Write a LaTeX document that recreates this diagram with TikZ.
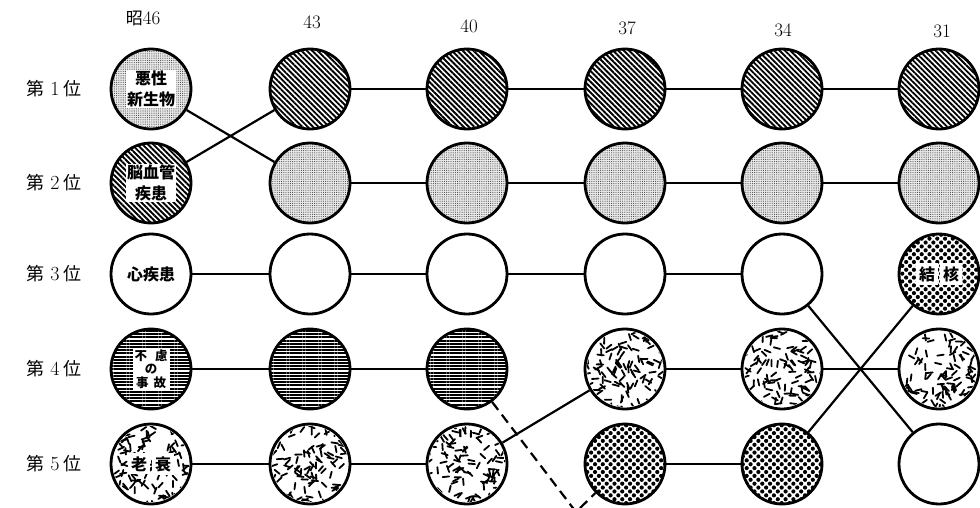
\documentclass[tikz,border=0pt]{standalone}
\usepackage{fontspec}
\newfontfamily\cjk{Noto Sans CJK JP}
\usetikzlibrary{patterns.meta}

% random squiggle texture inside a circle node
\newcommand\squig[1]{%
  \begin{scope}
    \clip (#1.center) circle (38);
    \foreach \k in {1,...,115}{
      \pgfmathsetmacro\px{39*rand}
      \pgfmathsetmacro\py{39*rand}
      \pgfmathsetmacro\pa{180*rnd}
      \draw[line width=1.8pt,line cap=round] ([shift={(\px,\py)}]#1.center) -- ++(\pa:6.5);
    }
  \end{scope}}

\begin{document}
\begin{tikzpicture}[x=1pt,y=-1pt,
    link/.style={line width=2.2pt},
    rank/.style={circle,draw,line width=2.8pt,minimum size=80pt,inner sep=0pt},
    neo/.style={rank,preaction={fill=gray!18},pattern={Dots[distance=2.2pt,radius=.55pt]},pattern color=gray!55!black},
    cvd/.style={rank,pattern={Lines[angle=-45,distance=3.8pt,line width=1.9pt]}},
    heart/.style={rank,fill=white},
    accid/.style={rank,pattern={Lines[angle=0,distance=3.2pt,line width=2.1pt]}},
    senil/.style={rank,fill=white},
    tb/.style={rank,pattern={Dots[angle=45,distance=5.5pt,radius=2.1pt]}},
    lbl/.style={font=\cjk\bfseries\fontsize{16}{21}\selectfont,align=center,fill=white,inner sep=1pt},
    yr/.style={font=\fontsize{19}{20}\selectfont},
    ranklbl/.style={font=\fontsize{20}{22}\selectfont}]
  \useasboundingbox (0,0) rectangle (980,507);

  % year headers
  \node[yr] (h46) at (143,18) {{\cjk\fontsize{17}{20}\selectfont 昭}46};
  \node[yr] (h43) at (312,22) {43};
  \node[yr] (h40) at (469,26) {40};
  \node[yr] (h37) at (627,28) {37};
  \node[yr] (h34) at (783,30) {34};
  \node[yr] (h31) at (942,31) {31};

  % rank labels
  \node[ranklbl] (p1) at (54,89)  {{\cjk\fontsize{18}{20}\selectfont 第}\hspace{6pt}1\hspace{4pt}{\cjk\fontsize{18}{20}\selectfont 位}};
  \node[ranklbl] (p2) at (54,183) {{\cjk\fontsize{18}{20}\selectfont 第}\hspace{6pt}2\hspace{4pt}{\cjk\fontsize{18}{20}\selectfont 位}};
  \node[ranklbl] (p3) at (54,274) {{\cjk\fontsize{18}{20}\selectfont 第}\hspace{6pt}3\hspace{4pt}{\cjk\fontsize{18}{20}\selectfont 位}};
  \node[ranklbl] (p4) at (54,369) {{\cjk\fontsize{18}{20}\selectfont 第}\hspace{6pt}4\hspace{4pt}{\cjk\fontsize{18}{20}\selectfont 位}};
  \node[ranklbl] (p5) at (54,464) {{\cjk\fontsize{18}{20}\selectfont 第}\hspace{6pt}5\hspace{4pt}{\cjk\fontsize{18}{20}\selectfont 位}};

  % 昭46
  \node[neo]   (y46r1) at (151,89)  {};
  \node[cvd]   (y46r2) at (151,183) {};
  \node[heart] (y46r3) at (151,274) {};
  \node[accid] (y46r4) at (151,369) {};
  \node[senil] (y46r5) at (151,464) {};
  % 43
  \node[cvd]   (y43r1) at (310,89)  {};
  \node[neo]   (y43r2) at (310,183) {};
  \node[heart] (y43r3) at (310,274) {};
  \node[accid] (y43r4) at (310,369) {};
  \node[senil] (y43r5) at (310,464) {};
  % 40
  \node[cvd]   (y40r1) at (467,89)  {};
  \node[neo]   (y40r2) at (467,183) {};
  \node[heart] (y40r3) at (467,274) {};
  \node[accid] (y40r4) at (467,369) {};
  \node[senil] (y40r5) at (467,464) {};
  % 37
  \node[cvd]   (y37r1) at (625,89)  {};
  \node[neo]   (y37r2) at (625,183) {};
  \node[heart] (y37r3) at (625,274) {};
  \node[senil] (y37r4) at (625,369) {};
  \node[tb]    (y37r5) at (625,464) {};
  % 34
  \node[cvd]   (y34r1) at (782,89)  {};
  \node[neo]   (y34r2) at (782,183) {};
  \node[heart] (y34r3) at (782,274) {};
  \node[senil] (y34r4) at (782,369) {};
  \node[tb]    (y34r5) at (782,464) {};
  % 31
  \node[cvd]   (y31r1) at (939,89)  {};
  \node[neo]   (y31r2) at (939,183) {};
  \node[tb]    (y31r3) at (939,274) {};
  \node[senil] (y31r4) at (939,369) {};
  \node[heart] (y31r5) at (939,464) {};

  \pgfmathsetseed{4613}
  \squig{y46r5}\squig{y43r5}\squig{y40r5}
  \squig{y37r4}\squig{y34r4}\squig{y31r4}

  % names of the causes
  \node[lbl] (t1) at (y46r1) {悪性\\新生物};
  \node[lbl] (t2) at (y46r2) {脳血管\\疾患};
  \node[lbl,fill=none] (t3) at (y46r3) {心疾患};
  \node[lbl,font=\cjk\bfseries\fontsize{12.5}{13.5}\selectfont,inner sep=2pt] (t4) at (y46r4) {不\hspace{8pt}慮\\の\\事\hspace{5pt}故};
  \node[lbl,fill=none,inner sep=0pt] (t5) at (y46r5) {\colorbox{white}{老}\hspace{2pt}\colorbox{white}{衰}};
  \node[lbl,fill=none,inner sep=0pt] (t6) at (y31r3) {\colorbox{white}{結}\hspace{2pt}\colorbox{white}{核}};

  % 46 -- 43
  \draw[link] (y46r1) -- (y43r2);
  \draw[link] (y46r2) -- (y43r1);
  \draw[link] (y46r3) -- (y43r3);
  \draw[link] (y46r4) -- (y43r4);
  \draw[link] (y46r5) -- (y43r5);
  % 43 -- 40
  \draw[link] (y43r1) -- (y40r1);
  \draw[link] (y43r2) -- (y40r2);
  \draw[link] (y43r3) -- (y40r3);
  \draw[link] (y43r4) -- (y40r4);
  \draw[link] (y43r5) -- (y40r5);
  % 40 -- 37
  \coordinate (out) at (576,512);
  \draw[link] (y40r1) -- (y37r1);
  \draw[link] (y40r2) -- (y37r2);
  \draw[link] (y40r3) -- (y37r3);
  \draw[link] (y40r5) -- (y37r4);
  \draw[link,dash pattern=on 10pt off 6pt] (y40r4) -- (out) -- (y37r5);
  % 37 -- 34
  \draw[link] (y37r1) -- (y34r1);
  \draw[link] (y37r2) -- (y34r2);
  \draw[link] (y37r3) -- (y34r3);
  \draw[link] (y37r4) -- (y34r4);
  \draw[link] (y37r5) -- (y34r5);
  % 34 -- 31
  \draw[link] (y34r1) -- (y31r1);
  \draw[link] (y34r2) -- (y31r2);
  \draw[link] (y34r3) -- (y31r5);
  \draw[link] (y34r4) -- (y31r4);
  \draw[link] (y34r5) -- (y31r3);
\end{tikzpicture}
\end{document}
